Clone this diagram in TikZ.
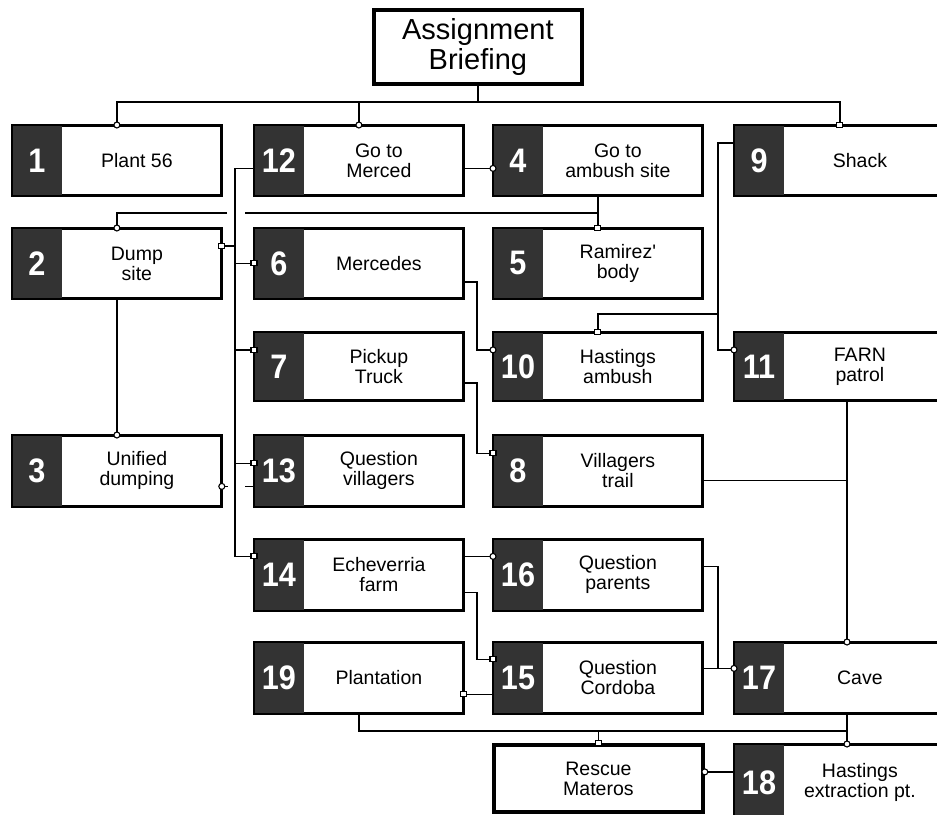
\documentclass[tikz,border=0pt]{standalone}
\usepackage{fontspec}
\setmainfont{Liberation Sans}
\newfontfamily\lblfont{Liberation Sans}
\newfontfamily\numfont[FakeStretch=0.9]{Liberation Sans Bold}
\usetikzlibrary{calc}
\definecolor{darkfill}{HTML}{333333}
\tikzset{
  box/.style={draw, line width=1.8pt, minimum width=208pt, minimum height=69pt, inner sep=0pt, anchor=north west, fill=white},
  thickbox/.style={draw, line width=3.8pt, minimum width=209pt, inner sep=0pt, anchor=north west, fill=white, align=center},
  numtxt/.style={text=white, inner sep=0pt, font=\numfont\fontsize{34}{36}\selectfont},
  lbl/.style={inner sep=0pt, align=center, font=\lblfont\fontsize{19.5}{20}\selectfont},
  ln/.style={line width=1.7pt},
  circmark/.style={circle, draw, fill=white, line width=1.1pt, minimum size=6pt, inner sep=0pt},
  sqmark/.style={rectangle, draw, fill=white, line width=1.1pt, minimum width=6pt, minimum height=5pt, inner sep=0pt},
}
\newcommand\taskbox[7][]{%
  \node[box,minimum height=#5pt,#1] (#2) at (#3,#4) {};
  \fill[darkfill] (#2.north west) rectangle ($(#2.south west)+(50,0)$);
  \draw[line width=1.8pt] (#2.north west) rectangle (#2.south east);
  \node[numtxt] (#2n) at ($(#2.west)+(25,0)$) {#6};
  \node[lbl] (#2t) at ($(#2.center)+(20,0)$) {#7};
}
\begin{document}
\begin{tikzpicture}[x=1pt,y=-1pt]
\useasboundingbox (0,0) rectangle (937,814);
\fill[white] (0,0) rectangle (937,814);

% boxes
\node[thickbox, minimum height=74pt, minimum width=208pt, font=\lblfont\fontsize{29}{30}\selectfont] (brief) at (372,8) {Assignment\\Briefing};

\taskbox{b1}{12}{125}{69}{1}{Plant 56}
\taskbox{b12}{254}{125}{69}{12}{Go to\\Merced}
\taskbox{b4}{493}{125}{69}{4}{Go to\\ambush site}
\taskbox[minimum width=210pt]{b9}{734}{125}{69}{9}{Shack}

\taskbox{b2}{12}{228}{69}{2}{Dump\\site}
\taskbox{b6}{254}{228}{69}{6}{Mercedes}
\taskbox{b5}{493}{228}{69}{5}{Ramirez'\\body}

\taskbox{b7}{254}{332}{67}{7}{Pickup\\Truck}
\taskbox{b10}{493}{332}{67}{10}{Hastings\\ambush}
\taskbox[minimum width=210pt]{b11}{734}{332}{67}{11}{FARN\\patrol}

\taskbox{b3}{12}{435}{70}{3}{Unified\\dumping}
\taskbox{b13}{254}{435}{70}{13}{Question\\villagers}
\taskbox{b8}{493}{435}{70}{8}{Villagers\\trail}

\taskbox{b14}{254}{539}{70}{14}{Echeverria\\farm}
\taskbox{b16}{493}{539}{70}{16}{Question\\parents}

\taskbox{b19}{254}{642}{70}{19}{Plantation}
\taskbox{b15}{493}{642}{70}{15}{Question\\Cordoba}
\taskbox[minimum width=210pt]{b17}{734}{642}{70}{17}{Cave}

\node[thickbox, minimum height=67pt, font=\lblfont\fontsize{19.5}{20}\selectfont] (rescue) at (492,743) {Rescue\\Materos};
\taskbox[minimum width=210pt]{b18}{734}{744}{76}{18}{Hastings\\extraction pt.}

% helper coordinates
\coordinate (tk) at (235,0);
\coordinate (v1) at (477,0);
\coordinate (v2) at (718,0);
\coordinate (v3) at (847,0);
\coordinate (bj) at ($(brief.south)+(0,16)$);
\coordinate (h4) at ($(b4.south)+(0,17)$);
\coordinate (hb) at ($(b19.south)+(0,17)$);
\coordinate (r18) at ($(rescue.east)+(0,-6.5)$);

% connectors
\draw[ln] (brief.south) -- (bj);
\draw[ln] (b1.north) -- (b1.north |- bj) -- (b9.north |- bj) -- (b9.north);
\draw[ln] (b12.north) -- (b12.north |- bj);
\draw[ln] ($(b12.east)+(0,8)$) -- ($(b4.west)+(0,8)$);

\draw[ln] ($(b12.west)+(0,8)$) -| ($(tk |- b14.west)+(0,-18.5)$) -- ($(b14.west)+(0,-18.5)$);
\draw[ln] ($(b2.east)+(0,-17.5)$) -- ($(tk |- b2.east)+(0,-17.5)$);
\draw[ln] (b6.west) -- (tk |- b6.west);
\draw[ln] ($(b7.west)+(0,-16.5)$) -- ($(tk |- b7.west)+(0,-16.5)$);
\draw[ln] ($(b13.west)+(0,-7.5)$) -- ($(tk |- b13.west)+(0,-7.5)$);
\draw[ln] ($(b3.east)+(0,15.5)$) -- ($(tk |- b3.east)+(-7,15.5)$);
\draw[ln] ($(tk |- b13.west)+(10,15.5)$) -- ($(b13.west)+(0,15.5)$);

\draw[ln] (b2.south) -- (b3.north);
\draw[ln] (b4.south) -- (b5.north);
\draw[ln] (h4) -- ($(tk |- h4)+(10,0)$);
\draw[ln] ($(tk |- h4)+(-8,0)$) -| (b2.north);

\draw[ln] ($(b6.east)+(0,18.5)$) -| ($(v1 |- b10.west)+(0,-16.5)$) -- ($(b10.west)+(0,-16.5)$);
\draw[ln] ($(b9.west)+(0,-17.5)$) -| ($(v2 |- b11.west)+(0,-16.5)$) -- ($(b11.west)+(0,-16.5)$);
\draw[ln] ($(v2 |- b10.north)+(0,-18)$) -| (b10.north);
\draw[ln] ($(b7.east)+(0,16.5)$) -| ($(v1 |- b8.west)+(0,-17.5)$) -- ($(b8.west)+(0,-17.5)$);

\draw[ln] (v3 |- b11.south) -- (v3 |- b17.north);
\draw[ln] ($(b8.east)+(0,9.5)$) -- ($(v3 |- b8.east)+(0,9.5)$);

\draw[ln] ($(b14.east)+(0,-18.5)$) -- ($(b16.west)+(0,-18.5)$);
\draw[ln] ($(b14.east)+(0,17.5)$) -| ($(v1 |- b15.west)+(0,-18.5)$) -- ($(b15.west)+(0,-18.5)$);
\draw[ln] ($(b16.east)+(0,-8.5)$) -| ($(v2 |- b17.west)+(0,-9.5)$) -- ($(b17.west)+(0,-9.5)$);
\draw[ln] ($(b15.east)+(0,-9.5)$) -- ($(v2 |- b15.east)+(0,-9.5)$);
\draw[ln] ($(b15.west)+(0,16.5)$) -- ($(b19.east)+(0,16.5)$);

\draw[ln] (b19.south) -- (hb) -- (v3 |- hb);
\draw[ln] (v3 |- b17.south) -- (v3 |- b18.north);
\draw[ln] (rescue.north |- hb) -- (rescue.north);
\draw[ln] (r18) -- (b18.west |- r18);

% markers
\node[circmark] (m1) at (b1.north) {};
\node[circmark] (m2) at (b12.north) {};
\node[sqmark] (m3) at (b9.north) {};
\node[circmark] (m4) at ($(b4.west)+(0,8)$) {};
\node[sqmark] (m5) at ($(b2.east)+(0,-17.5)$) {};
\node[sqmark] (m6) at (b6.west) {};
\node[sqmark] (m7) at ($(b7.west)+(0,-16.5)$) {};
\node[sqmark] (m8) at ($(b13.west)+(0,-7.5)$) {};
\node[sqmark] (m9) at ($(b14.west)+(0,-18.5)$) {};
\node[circmark] (m10) at ($(b3.east)+(0,15.5)$) {};
\node[circmark] (m11) at (b2.north) {};
\node[circmark] (m12) at (b3.north) {};
\node[sqmark] (m13) at (b5.north) {};
\node[circmark] (m14) at ($(b10.west)+(0,-16.5)$) {};
\node[sqmark] (m15) at (b10.north) {};
\node[circmark] (m16) at ($(b11.west)+(0,-16.5)$) {};
\node[sqmark] (m17) at ($(b8.west)+(0,-17.5)$) {};
\node[circmark] (m18) at (v3 |- b17.north) {};
\node[circmark] (m19) at ($(b17.west)+(0,-9.5)$) {};
\node[circmark] (m20) at ($(b16.west)+(0,-18.5)$) {};
\node[sqmark] (m21) at ($(b15.west)+(0,-18.5)$) {};
\node[sqmark] (m22) at ($(b19.east)+(0,16.5)$) {};
\node[circmark] (m23) at (v3 |- b18.north) {};
\node[sqmark] (m24) at (rescue.north) {};
\node[circmark] (m25) at (r18) {};
\end{tikzpicture}
\end{document}
